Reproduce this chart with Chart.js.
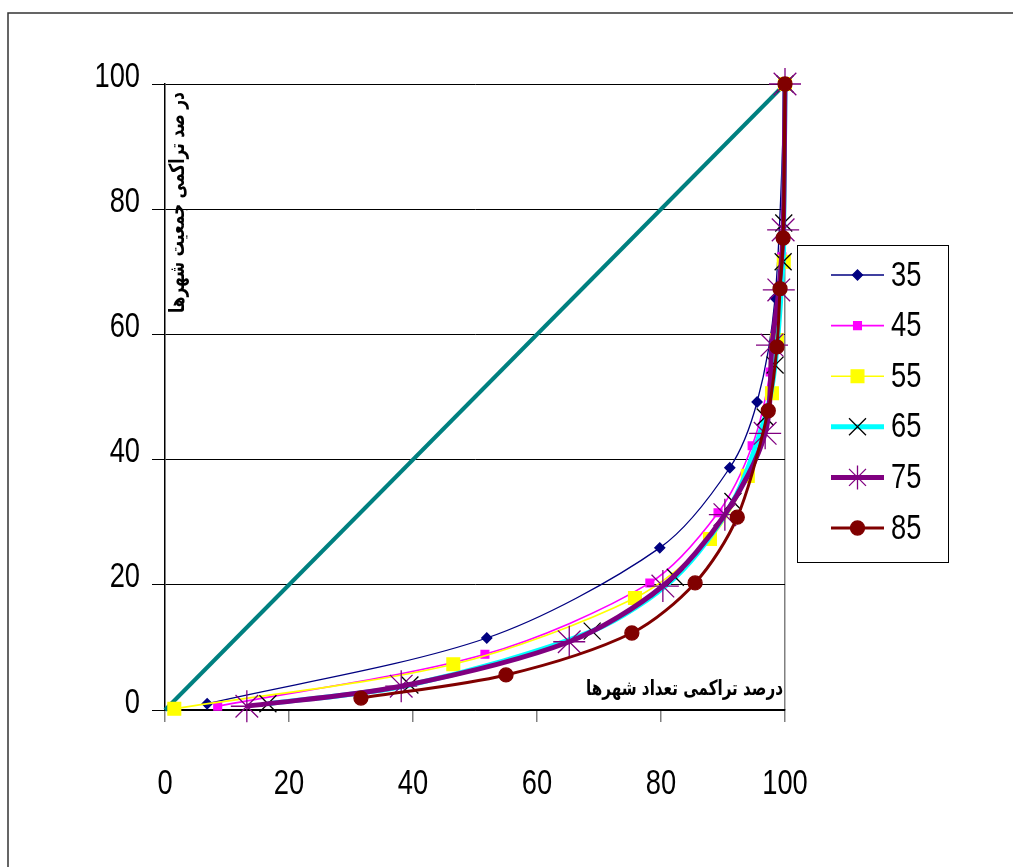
<!DOCTYPE html>
<html>
<head>
<meta charset="utf-8">
<script src="https://cdn.jsdelivr.net/npm/chart.js@4.4.1/dist/chart.umd.min.js"></script>
<style>
  html, body { margin: 0; padding: 0; background: #fff; }
  canvas { display: block; }
</style>
</head>
<body>
<canvas id="lorenzChart" width="1013" height="867"></canvas>
<script>
// series names shown in the legend
const seriesLabels = ['35', '45', '55', '65', '75', '85'];

// x = cumulative % of cities, y = cumulative % of population
const x35 = [6.8, 51.9, 79.8, 91.1, 95.5, 98.4, 100];
const y35 = [1.0, 11.5, 25.9, 38.7, 49.2, 65.8, 100];
const x45 = [8.5, 51.6, 78.2, 89.2, 94.7, 97.6, 99.5, 100];
const y45 = [0.6, 8.9, 20.3, 31.5, 42.2, 54.0, 72.4, 100];
const x55 = [1.5, 46.5, 75.8, 87.9, 94.0, 97.9, 98.7, 99.8, 100];
const y55 = [0.2, 7.3, 17.9, 27.3, 37.4, 50.6, 59.1, 71.6, 100];
const x65 = [16.6, 39.5, 68.9, 82.3, 91.6, 96.8, 98.4, 99.7, 99.8, 100];
const y65 = [1.0, 4.0, 12.6, 21.2, 33.3, 46.8, 55.1, 71.6, 77.8, 100];
const x75 = [13.2, 38.1, 65.2, 80.3, 90.3, 96.8, 97.9, 99.0, 99.7, 100];
const y75 = [0.6, 3.8, 10.9, 19.8, 31.2, 44.2, 58.3, 67.1, 76.7, 100];
const x85 = [31.6, 55.0, 75.3, 85.5, 92.3, 97.3, 98.7, 99.2, 99.7, 100];
const y85 = [1.9, 5.6, 12.3, 20.3, 30.8, 47.8, 58.0, 67.3, 75.4, 100];

// line of equality
const xEq = [0, 100];
const yEq = [0, 100];

const axisTicks = [0, 20, 40, 60, 80, 100];
const xTitle = 'درصد تراکمی تعداد شهرها';
const yTitle = 'در صد تراکمی جمعیت شهرها';

const numFont = "'Liberation Sans', Arial, sans-serif";
const faFont = "'DejaVu Sans', sans-serif";
const squeeze = 0.78; // the original digits are tall and narrow

function pts(xs, ys) {
    return xs.map((x, i) => ({ x: x, y: ys[i] }));
}

const styles = [
    { color: '#000080', width: 1.3, point: 'rectRot', radius: 5, pointColor: '#000080' },
    { color: '#FF00FF', width: 1.6, point: 'rect', radius: 5.5, pointColor: '#FF00FF' },
    { color: '#FFFF00', width: 1.6, point: 'rect', radius: 9, pointColor: '#FFFF00' },
    { color: '#00FFFF', width: 5, point: 'crossRot', radius: 12, pointColor: '#000000' },
    { color: '#800080', width: 5, point: 'star', radius: 16, pointColor: '#800080' },
    { color: '#800000', width: 3, point: 'circle', radius: 7, pointColor: '#800000' }
];
const seriesX = [x35, x45, x55, x65, x75, x85];
const seriesY = [y35, y45, y55, y65, y75, y85];

const datasets = seriesLabels.map((label, i) => ({
    label: label,
    data: pts(seriesX[i], seriesY[i]),
    showLine: true,
    clip: false,
    borderColor: styles[i].color,
    borderWidth: styles[i].width,
    backgroundColor: styles[i].pointColor,
    pointStyle: styles[i].point,
    pointRadius: styles[i].radius,
    pointBackgroundColor: styles[i].pointColor,
    pointBorderColor: styles[i].pointColor,
    pointBorderWidth: 1.3,
    tension: 0.3,
    order: 6 - i
}));

datasets.push({
    label: 'equality',
    data: pts(xEq, yEq),
    showLine: true,
    clip: false,
    borderColor: '#008080',
    borderWidth: 4,
    pointRadius: 0,
    order: 7,
    hideInLegend: true
});

// draw text squeezed (or stretched) horizontally around its anchor
function narrowText(ctx, text, x, y, k) {
    ctx.save();
    ctx.translate(x, y);
    ctx.scale(k, 1);
    ctx.fillText(text, 0, 0);
    ctx.restore();
}

// frame, narrow tick labels, in-plot axis titles and the boxed legend
const decorPlugin = {
    id: 'decor',
    afterLayout(chart) {
        ['x', 'y'].forEach(id => {
            const s = chart.scales[id];
            if (s._narrowed) return;
            const orig = s.drawLabels.bind(s);
            s.drawLabels = function (area) {
                const ctx = this.ctx;
                const fill = ctx.fillText;
                ctx.fillText = function (t, x, y) {
                    this.save();
                    this.translate(x, y);
                    this.scale(squeeze, 1);
                    fill.call(this, t, 0, 0);
                    this.restore();
                };
                orig(area);
                delete ctx.fillText;
            };
            s._narrowed = true;
        });
    },
    beforeDraw(chart) {
        const ctx = chart.ctx;
        ctx.save();
        ctx.strokeStyle = '#333';
        ctx.lineWidth = 1.5;
        ctx.beginPath();
        ctx.moveTo(8, chart.height);
        ctx.lineTo(8, 13);
        ctx.lineTo(chart.width, 13);
        ctx.stroke();
        ctx.restore();
    },
    afterDraw(chart) {
        const ctx = chart.ctx;
        const a = chart.chartArea;
        ctx.save();
        ctx.fillStyle = '#000';
        ctx.font = 'bold 21px ' + faFont;
        ctx.textBaseline = 'alphabetic';
        ctx.textAlign = 'right';
        narrowText(ctx, xTitle, a.right - 2, a.bottom - 15, 197 / ctx.measureText(xTitle).width);

        ctx.translate(a.left + 19, a.top + 8);
        ctx.rotate(-Math.PI / 2);
        narrowText(ctx, yTitle, 0, 0, 221 / ctx.measureText(yTitle).width);
        ctx.restore();

        // legend
        const box = { left: 797, top: 245, width: 151, height: 317 };
        ctx.save();
        ctx.strokeStyle = '#000';
        ctx.lineWidth = 1;
        ctx.strokeRect(box.left + 0.5, box.top + 0.5, box.width, box.height);
        ctx.font = '35px ' + numFont;
        ctx.textBaseline = 'middle';
        ctx.textAlign = 'left';
        chart.data.datasets.forEach((ds, i) => {
            if (ds.hideInLegend) return;
            const y = box.top + 30 + i * 50.6;
            ctx.strokeStyle = ds.borderColor;
            ctx.lineWidth = ds.borderWidth;
            ctx.beginPath();
            ctx.moveTo(831, y);
            ctx.lineTo(884, y);
            ctx.stroke();
            ctx.fillStyle = ds.pointBackgroundColor;
            ctx.strokeStyle = ds.pointBorderColor;
            ctx.lineWidth = ds.pointBorderWidth;
            const r = (ds.pointStyle === 'star' || ds.pointStyle === 'crossRot') ? 12 : ds.pointRadius;
            Chart.helpers.drawPoint(ctx, { pointStyle: ds.pointStyle, radius: r, rotation: 0, borderWidth: ds.pointBorderWidth }, 857.5, y);
            ctx.fillStyle = '#000';
            narrowText(ctx, ds.label, 891, y + 1, squeeze);
        });
        ctx.restore();
    }
};

const ctxLorenz = document.getElementById('lorenzChart').getContext('2d');
new Chart(ctxLorenz, {
    type: 'scatter',
    data: { datasets: datasets },
    options: {
        responsive: false,
        animation: false,
        layout: { padding: { left: 0, top: 84, right: 228, bottom: 0 } },
        plugins: {
            legend: { display: false },
            tooltip: { enabled: false }
        },
        scales: {
            x: {
                type: 'linear',
                min: 0,
                max: 100,
                afterFit: s => { s.height = 157; },
                afterBuildTicks: s => { s.ticks = axisTicks.map(v => ({ value: v })); },
                border: { color: '#000', width: 1.5 },
                grid: {
                    drawOnChartArea: true,
                    color: c => (c.tick && c.tick.value === 100) ? '#808080' : 'rgba(0,0,0,0)',
                    tickColor: '#808080',
                    tickLength: 12,
                    lineWidth: 1.5
                },
                ticks: {
                    color: '#000',
                    padding: 41,
                    font: { family: numFont, size: 35 }
                }
            },
            y: {
                type: 'linear',
                min: 0,
                max: 100,
                afterFit: s => { s.width = 165; },
                afterBuildTicks: s => { s.ticks = axisTicks.map(v => ({ value: v })); },
                border: { color: '#000', width: 1.5 },
                grid: {
                    color: '#000',
                    tickColor: '#000',
                    tickLength: 13,
                    lineWidth: 1
                },
                ticks: {
                    color: '#000',
                    padding: 12,
                    labelOffset: -7,
                    font: { family: numFont, size: 35 }
                }
            }
        }
    },
    plugins: [decorPlugin]
});
</script>
</body>
</html>
